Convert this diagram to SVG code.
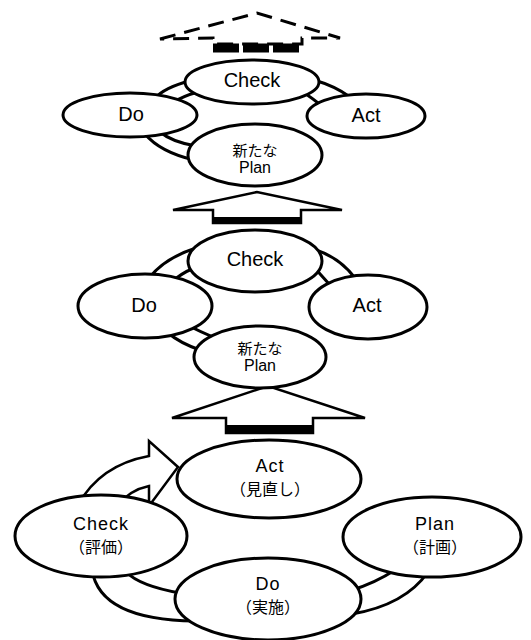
<svg xmlns="http://www.w3.org/2000/svg" width="531" height="640" viewBox="0 0 531 640">
<style>
.nd{fill:#fff;stroke:#000;stroke-width:3}
.band{fill:none;stroke:#000;stroke-width:3;stroke-linecap:butt}
.arr{fill:#fff;stroke:#000;stroke-width:2.5;stroke-linejoin:miter}
.dash{fill:none;stroke:#000;stroke-width:3;stroke-dasharray:16 9}
.lt{font-family:"Liberation Sans","Noto Sans CJK JP",sans-serif;font-size:20px;text-anchor:middle;fill:#000}
.ls{font-family:"Liberation Sans","Noto Sans CJK JP",sans-serif;font-size:18px;letter-spacing:1px;text-anchor:middle;fill:#000}
.lp{font-family:"Liberation Sans","Noto Sans CJK JP",sans-serif;font-size:16px;text-anchor:middle;fill:#000}
.jp{font-family:"Noto Sans CJK JP",sans-serif;font-size:15px;text-anchor:middle;fill:#000}
.jb{font-family:"Noto Sans CJK JP",sans-serif;font-size:16px;text-anchor:middle;fill:#000}
</style>
<g id="connectors">
  <!-- top dashed arrow -->
  <polygon class="dash" points="160,39 257,13 340,38 302,38 302,44 213,44 213,38"/>
  <line x1="213" y1="48" x2="302" y2="48" stroke="#000" stroke-width="9" stroke-dasharray="26 4"/>
  <!-- top ring bands -->
  <path class="band" d="M154 99 Q165 87 190 81"/>
  <path class="band" d="M172 103 Q183 96 198 92"/>
  <path class="band" d="M314 80 Q335 86 350 97"/>
  <path class="band" d="M303 92 Q312 98 322 106"/>
  <path class="band" d="M145 134 Q160 152 194 160"/>
  <path class="band" d="M160 132 Q172 142 196 146"/>
  <!-- arrow 1 -->
  <polygon class="arr" points="173,210 257,192 342,210 301,210 301,223 213,223 213,210"/>
  <rect x="212" y="217" width="90" height="7" fill="#000"/>
  <!-- middle ring bands -->
  <path class="band" d="M150 277 Q165 258 196 248"/>
  <path class="band" d="M172 282 Q180 274 194 268"/>
  <path class="band" d="M316 250 Q340 258 355 278"/>
  <path class="band" d="M313 266 Q320 274 330 285"/>
  <path class="band" d="M168 333 Q180 343 200 350"/>
  <path class="band" d="M188 325 Q200 332 216 338"/>
  <!-- arrow 2 -->
  <polygon class="arr" points="172,418 268,386 365,418 313,418 313,433 226,433 226,418"/>
  <rect x="225" y="425" width="89" height="9" fill="#000"/>
  <!-- bottom cycle -->
  <path class="arr" stroke-width="3" d="M78 505 Q100 465 149 456 L149 441 L178 467 L149 506 L149 486 Q130 490 118 505 Z"/>
  <path class="band" d="M92 570 Q100 620 195 621"/>
  <path class="band" d="M126 572 Q140 586 180 593"/>
  <path class="band" d="M352 614 Q405 605 428 572"/>
  <path class="band" d="M352 590 Q375 583 395 570"/>
</g>
<g id="top-check"><ellipse class="nd" cx="252" cy="82" rx="67" ry="22"/><text class="lt" x="252" y="87">Check</text></g>
<g id="top-do"><ellipse class="nd" cx="130" cy="115" rx="67" ry="22"/><text class="lt" x="131" y="121">Do</text></g>
<g id="top-act"><ellipse class="nd" cx="366" cy="116" rx="59" ry="22"/><text class="lt" x="366" y="122">Act</text></g>
<g id="top-plan"><ellipse class="nd" cx="255" cy="155" rx="67" ry="31"/><text class="jp" x="255" y="156">新たな</text><text class="lp" x="255" y="173">Plan</text></g>
<g id="mid-check"><ellipse class="nd" cx="255" cy="261" rx="67" ry="31"/><text class="lt" x="255" y="266">Check</text></g>
<g id="mid-do"><ellipse class="nd" cx="145" cy="306" rx="67" ry="32"/><text class="lt" x="144" y="312">Do</text></g>
<g id="mid-act"><ellipse class="nd" cx="368" cy="307" rx="59" ry="32"/><text class="lt" x="367" y="312">Act</text></g>
<g id="mid-plan"><ellipse class="nd" cx="260" cy="357" rx="66" ry="31"/><text class="jp" x="260" y="354">新たな</text><text class="lp" x="260" y="371">Plan</text></g>
<g id="bot-act"><ellipse class="nd" cx="269" cy="479" rx="92" ry="39"/><text class="ls" x="270" y="472">Act</text><text class="jb" x="270" y="495">（見直し）</text></g>
<g id="bot-check"><ellipse class="nd" cx="101" cy="536" rx="86" ry="41"/><text class="ls" x="101" y="530">Check</text><text class="jb" x="101" y="553">（評価）</text></g>
<g id="bot-plan"><ellipse class="nd" cx="432" cy="537" rx="89" ry="40"/><text class="ls" x="435" y="530">Plan</text><text class="jb" x="435" y="553">（計画）</text></g>
<g id="bot-do"><ellipse class="nd" cx="268" cy="599" rx="93" ry="41"/><text class="ls" x="268" y="590">Do</text><text class="jb" x="268" y="613">（実施）</text></g>
</svg>
